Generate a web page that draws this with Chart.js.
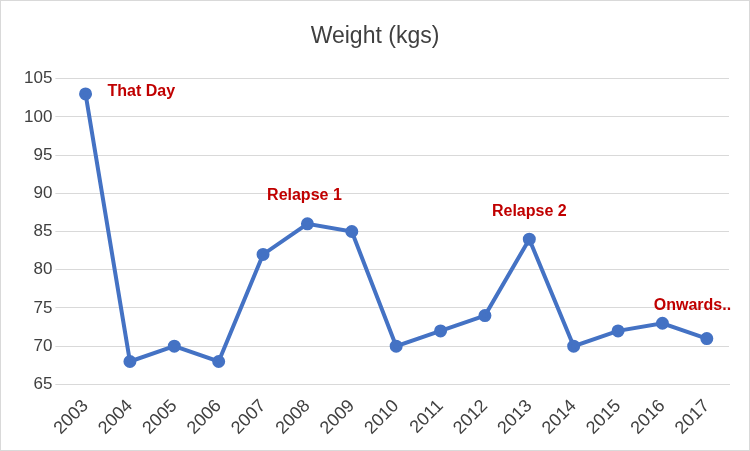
<!DOCTYPE html>
<html><head><script src="https://cdn.jsdelivr.net/npm/chart.js@4"></script>
<style>body{margin:0;background:#fff}#w{width:748px;height:449px;border:1px solid #d9d9d9}</style></head>
<body><div id="w"><canvas id="c"></canvas></div>
<script>
const years=['2003','2004','2005','2006','2007','2008','2009','2010','2011','2012','2013','2014','2015','2016','2017'];
const weights=[103,68,70,68,82,86,85,70,72,74,84,70,72,73,71];
const notes=[{i:0,text:'That Day',dx:22,dy:-2,align:'left'},{i:5,text:'Relapse 1',dx:-3,dy:-28,align:'center'},{i:10,text:'Relapse 2',dx:0,dy:-28,align:'center'},{i:13,text:'Onwards..',dx:30,dy:-18,align:'center'}];
const notePlugin={id:'notes',afterDatasetsDraw(ch){const c=ch.ctx,x=ch.scales.x,y=ch.scales.y;c.save();c.fillStyle='#c00000';c.font='bold 16px "Liberation Sans"';c.textBaseline='middle';
notes.forEach(n=>{c.textAlign=n.align;c.fillText(n.text,x.getPixelForValue(n.i)+n.dx,y.getPixelForValue(weights[n.i])+n.dy);});c.restore();}};
new Chart(document.getElementById('c'),{type:'line',data:{labels:years,datasets:[{data:weights,borderColor:'#4472c4',backgroundColor:'#4472c4',borderWidth:4,pointRadius:4.5,pointBackgroundColor:'#4472c4',tension:0}]},
options:{responsive:true,maintainAspectRatio:false,animation:false,layout:{padding:{left:20,right:20,top:14,bottom:8}},
plugins:{legend:{display:false},title:{display:true,text:'Weight (kgs)',color:'#404040',font:{family:'Liberation Sans',size:23,weight:'normal'},padding:{top:8,bottom:28}}},
scales:{x:{offset:true,grid:{display:false},border:{color:'#d9d9d9'},ticks:{color:'#404040',font:{family:'Liberation Sans',size:18},maxRotation:45,minRotation:45}},
y:{min:65,max:105,ticks:{stepSize:5,color:'#404040',font:{family:'Liberation Sans',size:17}},grid:{color:'#d9d9d9'},border:{display:false}}}},plugins:[notePlugin]});
</script></body></html>
